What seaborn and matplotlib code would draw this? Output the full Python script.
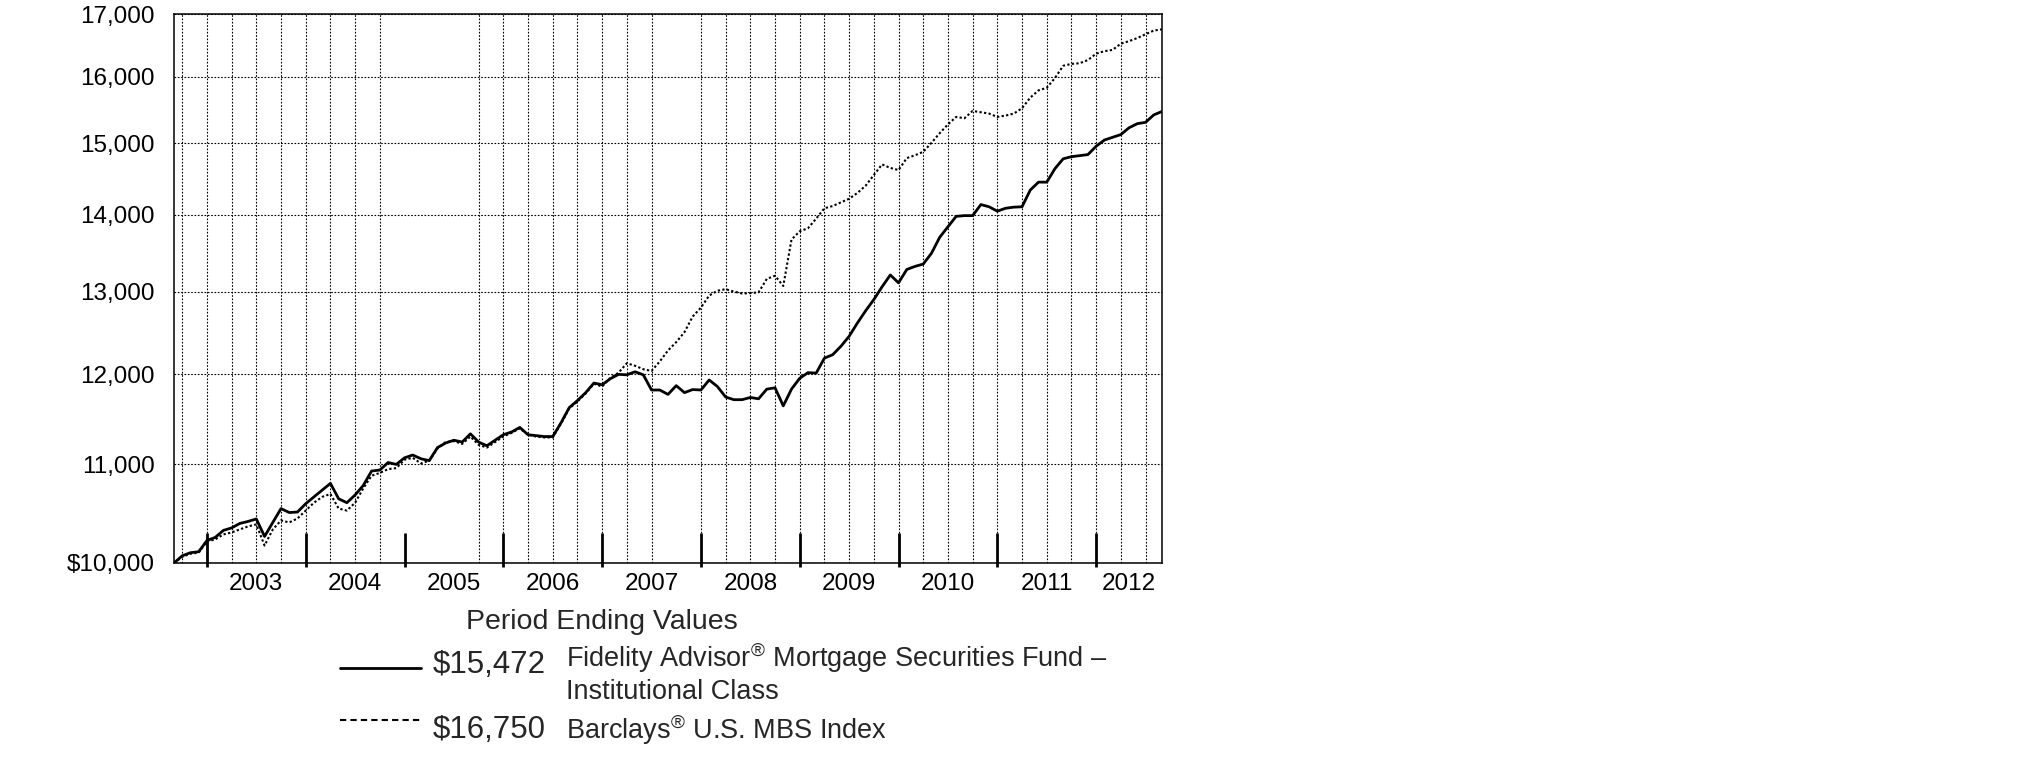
import numpy as np
import pandas as pd
import seaborn as sns
import matplotlib.pyplot as plt
from matplotlib.lines import Line2D
from matplotlib.ticker import NullLocator, FixedLocator

# monthly hypothetical $10,000 growth, month 0 = Aug 2002 ... month 120 = Aug 2012
fund = [10000, 10070, 10100, 10110, 10220, 10250, 10320, 10345, 10390, 10410,
        10435, 10260, 10400, 10540, 10500, 10505, 10590, 10660, 10730, 10800,
        10640, 10600, 10680, 10780, 10930, 10940, 11020, 11000, 11070, 11100,
        11060, 11040, 11180, 11230, 11260, 11240, 11330, 11240, 11200, 11260,
        11320, 11350, 11400, 11320, 11310, 11300, 11300, 11450, 11620, 11700,
        11790, 11900, 11880, 11950, 12000, 11995, 12030, 11995, 11820, 11820,
        11770, 11870, 11790, 11825, 11820, 11935, 11860, 11740, 11710, 11710,
        11735, 11720, 11830, 11845, 11640, 11830, 11955, 12020, 12015, 12190,
        12230, 12330, 12450, 12610, 12760, 12900, 13060, 13210, 13110, 13280,
        13320, 13350, 13490, 13700, 13840, 13980, 13990, 13990, 14140, 14110,
        14050, 14090, 14105, 14110, 14340, 14450, 14450, 14640, 14780, 14810,
        14825, 14840, 14960, 15050, 15090, 15130, 15230, 15290, 15310, 15420,
        15472]
index = [10000, 10060, 10090, 10100, 10210, 10230, 10280, 10300, 10330, 10360,
         10380, 10170, 10330, 10420, 10400, 10440, 10520, 10600, 10660, 10690,
         10540, 10520, 10600, 10750, 10880, 10910, 10950, 10960, 11050, 11070,
         11010, 11040, 11170, 11240, 11250, 11220, 11300, 11210, 11180, 11240,
         11300, 11340, 11390, 11320, 11300, 11290, 11290, 11440, 11610, 11690,
         11780, 11890, 11860, 11960, 12020, 12130, 12100, 12060, 12040, 12150,
         12280, 12380, 12500, 12690, 12800, 12950, 13010, 13030, 13000, 12975,
         12980, 12990, 13160, 13200, 13070, 13670, 13780, 13820, 13950, 14090,
         14120, 14170, 14220, 14300, 14400, 14550, 14700, 14650, 14620, 14790,
         14830, 14880, 15010, 15150, 15280, 15390, 15370, 15480, 15460, 15440,
         15390, 15410, 15440, 15520, 15680, 15790, 15830, 15980, 16170, 16200,
         16210, 16260, 16360, 16400, 16420, 16520, 16560, 16610, 16670, 16730,
         16750]

fund_name = "Fidelity Advisor® Mortgage Securities Fund – Institutional Class"
index_name = "Barclays® U.S. MBS Index"
fund_end = "$15,472"
index_end = "$16,750"

years = ["2003", "2004", "2005", "2006", "2007", "2008", "2009", "2010", "2011", "2012"]
year_label_pos = [10, 22, 34, 46, 58, 70, 82, 94, 106, 116]
year_bounds = [4, 16, 28, 40, 52, 64, 76, 88, 100, 112]
grid_months = [m for m in range(1, 120, 3) if m not in (28, 31, 34, 61)]
y_ticks = [10000, 11000, 12000, 13000, 14000, 15000, 16000, 17000]
y_labels = ["$10,000", "11,000", "12,000", "13,000", "14,000", "15,000", "16,000", "17,000"]

df = pd.DataFrame({
    "month": list(range(len(fund))) * 2,
    "value": fund + index,
    "series": [fund_name] * len(fund) + [index_name] * len(index),
})

sns.set_style("white")
plt.rcParams["font.family"] = ["Liberation Sans", "DejaVu Sans"]
plt.rcParams["mathtext.fontset"] = "custom"
plt.rcParams["mathtext.rm"] = "Liberation Sans"

W, H = 2025, 773
fig = plt.figure(figsize=(W / 100, H / 100), dpi=100)
ax = fig.add_axes([174 / W, 1 - 563 / H, (1162 - 174) / W, (563 - 14) / H])

sns.lineplot(data=df, x="month", y="value", hue="series", style="series", size="series",
             palette=["black", "black"], sizes={fund_name: 2.0, index_name: 1.5},
             dashes={fund_name: "", index_name: (1.1, 1.1)},
             legend=False, errorbar=None, ax=ax, zorder=3)

ax.set_yscale("log")
ax.set_ylim(10000, 17000)
ax.set_xlim(0, 120)
ax.yaxis.set_major_locator(FixedLocator(y_ticks))
ax.yaxis.set_minor_locator(NullLocator())
ax.set_yticklabels(y_labels)
ax.set_xticks(year_label_pos)
ax.set_xticklabels(years)
ax.xaxis.set_minor_locator(NullLocator())
ax.set_xlabel("")
ax.set_ylabel("")

ax.tick_params(axis="y", direction="out", length=8.8, width=2.2, pad=5,
               labelsize=17.5, colors="black")
ax.tick_params(axis="x", length=0, pad=7, labelsize=17.5, colors="black")

ax.grid(axis="y", color="black", linestyle=(0, (1.5, 1.5)), linewidth=0.8)
ax.grid(axis="x", visible=False)
ax.set_axisbelow(True)
ax.vlines(grid_months, 0, 1, transform=ax.get_xaxis_transform(), color="black",
          linestyles=(0, (1.5, 1.5)), linewidth=0.8, zorder=0.5)
ax.vlines(year_bounds, -4 / 549, 30 / 549, transform=ax.get_xaxis_transform(),
          color="black", linewidth=2.0, clip_on=False, zorder=4)

for s in ax.spines.values():
    s.set_color("black")
    s.set_linewidth(1.1)


def fx(x):
    return x / W


def fy(y):
    return 1 - y / H


# legend block below the chart
fig.text(fx(466), fy(622), "Period Ending Values", fontsize=20.5, va="center", ha="left")
fig.add_artist(Line2D([fx(340), fx(421)], [fy(668), fy(668)], color="black", linewidth=2.0))
fig.add_artist(Line2D([fx(340), fx(421)], [fy(720), fy(720)], color="black", linewidth=1.5,
                      dashes=(3, 2)))
fig.text(fx(433), fy(665), fund_end, fontsize=22.5, va="center", ha="left")
fig.text(fx(433), fy(730), index_end, fontsize=22.5, va="center", ha="left")
fig.text(fx(566), fy(658), "Fidelity Advisor$^{®}$ Mortgage Securities Fund –", fontsize=19.5,
         va="center", ha="left")
fig.text(fx(566), fy(692), "Institutional Class", fontsize=19.5, va="center", ha="left")
fig.text(fx(566), fy(730), "Barclays$^{®}$ U.S. MBS Index", fontsize=19.5, va="center", ha="left")

fig.savefig("out.png", dpi=100)
